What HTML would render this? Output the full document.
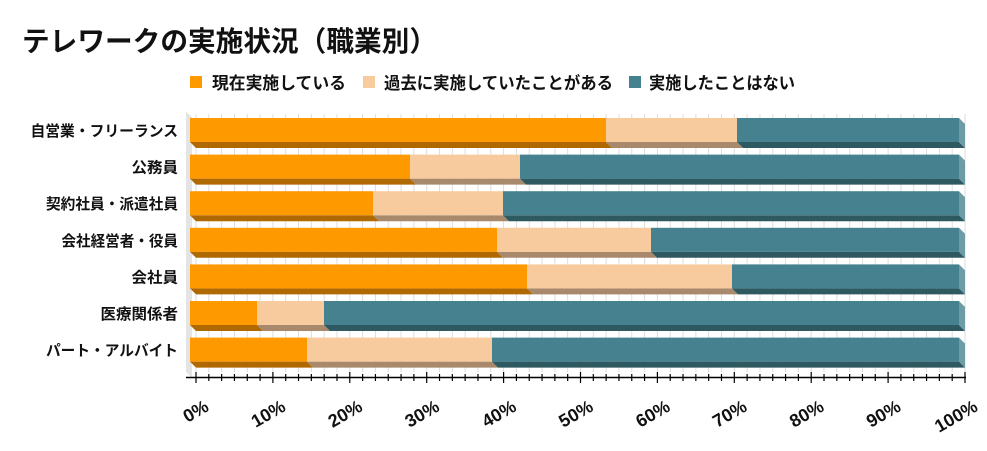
<!DOCTYPE html><html><head><meta charset="utf-8"><style>
body{margin:0;background:#fff}
text{font-family:"Liberation Sans","Noto Sans CJK JP",sans-serif;font-weight:bold;fill:#111}
</style></head><body>
<svg width="987" height="446" xmlns="http://www.w3.org/2000/svg">
<text x="22" y="51" font-size="28" fill="#222" textLength="415" lengthAdjust="spacingAndGlyphs">テレワークの実施状況（職業別）</text>
<rect x="190" y="76" width="12" height="12" fill="#FF9900"/>
<text x="212" y="89" font-size="17" textLength="134" lengthAdjust="spacingAndGlyphs">現在実施している</text>
<rect x="363" y="76" width="12" height="12" fill="#F8CB9F"/>
<text x="384" y="89" font-size="17" textLength="229" lengthAdjust="spacingAndGlyphs">過去に実施していたことがある</text>
<rect x="629" y="76" width="12" height="12" fill="#45818E"/>
<text x="649" y="89" font-size="17" textLength="146" lengthAdjust="spacingAndGlyphs">実施したことはない</text>
<polygon points="186,112 192,117 192,378 186,372" fill="#e4e4e4"/>
<g stroke="#ddd" stroke-width="1" id="grid"></g>
<g id="bars"></g>
<line x1="186" y1="377.5" x2="966" y2="377.5" stroke="#000" stroke-width="1.5"/>
<g id="ticks" stroke="#000" stroke-width="1.2"></g>
<g id="labels" font-size="15"></g>
<g id="xl" font-size="18"></g>
</svg>
<script>
var ns="http://www.w3.org/2000/svg";
function el(p,t,a,txt){var e=document.createElementNS(ns,t);for(var k in a)e.setAttribute(k,a[k]);if(txt)e.textContent=txt;document.getElementById(p).appendChild(e);}
var x0=196,W=769;
for(var i=0;i<=60;i++){var x=x0+W*i/60;
 el("grid","line",{x1:x,y1:114,x2:x,y2:372});
 el("ticks","line",{x1:x,y1:i%6==0?372:374,x2:x,y2:i%6==0?383:381});}
var rows=[["自営業・フリーランス",606,737],["公務員",410,520],["契約社員・派遣社員",373,503],["会社経営者・役員",497,651],["会社員",527,732],["医療関係者",257,324],["パート・アルバイト",307,492]];
var cols=[["#FF9900","#B06800"],["#F8CB9F","#A8896B"],["#45818E","#2F5960"]];
rows.forEach(function(r,i){var t=118+i*36.6,h=24,d=6,L=190,R=959;
 var xs=[L,r[1],r[2],R];
 for(var s=0;s<3;s++){
  el("bars","polygon",{points:xs[s]+","+(t+h)+" "+xs[s+1]+","+(t+h)+" "+(xs[s+1]+d)+","+(t+h+d)+" "+(xs[s]+d)+","+(t+h+d),fill:cols[s][1]});
  el("bars","rect",{x:xs[s],y:t,width:xs[s+1]-xs[s],height:h,fill:cols[s][0]});}
 el("bars","polygon",{points:R+","+t+" "+(R+d)+","+(t+d)+" "+(R+d)+","+(t+h+d)+" "+R+","+(t+h),fill:"#6E9CA6"});
 var n=r[0].length,dots=(r[0].match(/・/g)||[]).length;
 var len=(n-dots)*15.5+dots*8;
 el("labels","text",{x:178-len,y:t+18,textLength:len,lengthAdjust:"spacingAndGlyphs"},r[0]);});
for(var i=0;i<=10;i++){var x=x0+W*i/10;
 el("xl","text",{x:x+14,y:410,"text-anchor":"end",transform:"rotate(-30 "+(x+14)+" 410)"},(i*10)+"%");}
</script>
</body></html>
